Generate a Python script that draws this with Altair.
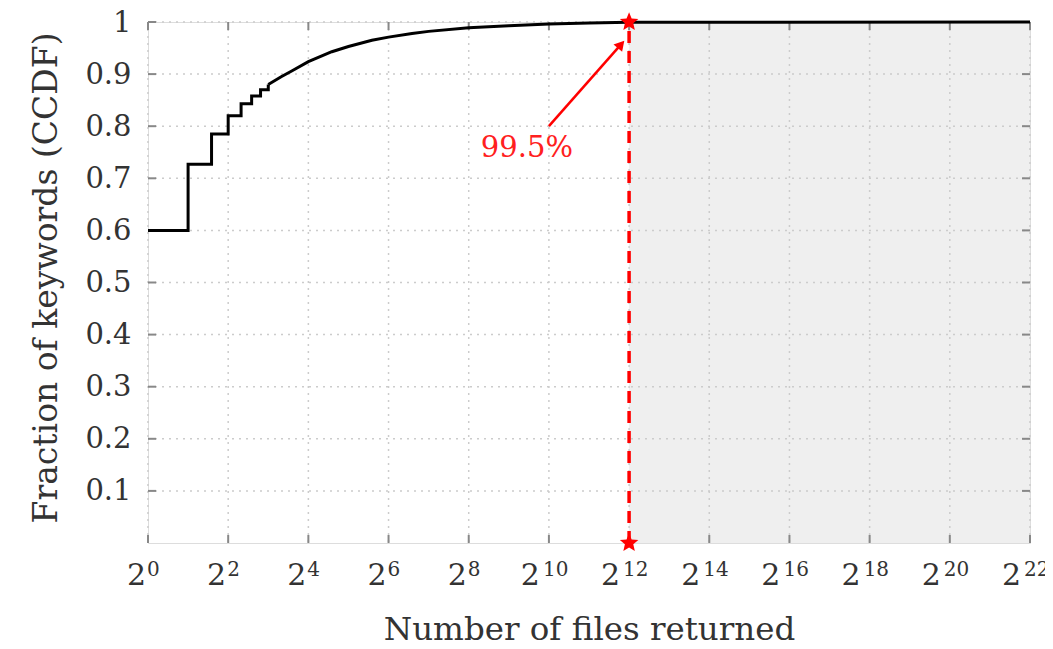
import altair as alt
import pandas as pd

# ---------------- data ----------------
step_x = [1, 2, 3, 4, 5, 6, 7, 8]
step_y = [0.600, 0.727, 0.785, 0.820, 0.843, 0.858, 0.870, 0.880]

smooth_x = [8, 10, 12, 16, 24, 32, 48, 64, 96, 128, 256, 512, 1024, 2048, 4096, 4194304]
smooth_y = [0.880, 0.895, 0.906, 0.924, 0.943, 0.953, 0.965, 0.971, 0.978, 0.982,
            0.989, 0.993, 0.996, 0.998, 0.9995, 1.0]

x_tick_exp = [0, 2, 4, 6, 8, 10, 12, 14, 16, 18, 20, 22]
y_ticks = [0.1, 0.2, 0.3, 0.4, 0.5, 0.6, 0.7, 0.8, 0.9, 1.0]

threshold = 4096          # 2^12
x_max = 4194304           # 2^22
label_text = ["99.5%"]
label_x = [700]
label_y = [0.758]
arrow_x = [1024]
arrow_y = [0.80]
arrow_x2 = [3565]
arrow_y2 = [0.957]

W, H = 882, 521
SERIF = "DejaVu Serif"
STAR = ("M0,-1L0.26,-0.36L0.95,-0.31L0.43,0.14L0.59,0.81L0,0.45"
        "L-0.59,0.81L-0.43,0.14L-0.95,-0.31L-0.26,-0.36Z")

step_df = pd.DataFrame({"x": step_x, "y": step_y})
smooth_df = pd.DataFrame({"x": smooth_x, "y": smooth_y})
xt_df = pd.DataFrame({"x": [2 ** e for e in x_tick_exp],
                      "exp": x_tick_exp,
                      "sup": [str(e) for e in x_tick_exp],
                      "base": ["2"] * len(x_tick_exp)})
yt_df = pd.DataFrame({"y": y_ticks})

xs = alt.Scale(type="log", base=2, domain=[1, x_max], nice=False)
ys = alt.Scale(domain=[0, 1], nice=False)

X = alt.X("x:Q", scale=xs,
          axis=alt.Axis(title="Number of files returned", labels=False, ticks=False,
                        grid=False, domain=False, titleFont=SERIF, titleFontSize=32.5,
                        titleFontWeight="normal", titleColor="#333",
                        titleY=96, titleBaseline="alphabetic"))
Y = alt.Y("y:Q", scale=ys,
          axis=alt.Axis(title="Fraction of keywords (CCDF)", values=y_ticks,
                        format="~g", ticks=False, grid=False, domain=False,
                        labelFont=SERIF, labelFontSize=29, labelColor="#333",
                        labelPadding=17, titleFont=SERIF, titleFontSize=33,
                        titleFontWeight="normal", titleColor="#333",
                        titleX=-92, titleY=H / 2 - 5, titleAngle=-90,
                        titleBaseline="alphabetic"))

# shaded region
shade = alt.Chart(pd.DataFrame({"x": [threshold], "x2": [x_max], "y": [0], "y2": [1]})).mark_rect(
    color="#efefef").encode(x=X, x2="x2:Q", y=Y, y2="y2:Q")

# grids
xgrid = alt.Chart(xt_df).mark_rule(color="#cccccc", strokeDash=[2, 5], strokeWidth=1.5).encode(
    x=alt.X("x:Q", scale=xs), y=alt.value(0), y2=alt.value(H))
ygrid = alt.Chart(yt_df).mark_rule(color="#cccccc", strokeDash=[2, 5], strokeWidth=1.5).encode(
    y=alt.Y("y:Q", scale=ys), x=alt.value(0), x2=alt.value(W))

# inward ticks
tick_c = "#888888"
xt_bot = alt.Chart(xt_df).mark_rule(color=tick_c, strokeWidth=2).encode(
    x=alt.X("x:Q", scale=xs), y=alt.value(H), y2=alt.value(H - 8))
xt_top = alt.Chart(xt_df).mark_rule(color=tick_c, strokeWidth=2).encode(
    x=alt.X("x:Q", scale=xs), y=alt.value(0), y2=alt.value(8))
yt_l = alt.Chart(yt_df).mark_rule(color=tick_c, strokeWidth=2).encode(
    y=alt.Y("y:Q", scale=ys), x=alt.value(0), x2=alt.value(8))
yt_r = alt.Chart(yt_df).mark_rule(color=tick_c, strokeWidth=2).encode(
    y=alt.Y("y:Q", scale=ys), x=alt.value(W), x2=alt.value(W - 8))

# curves
step_line = alt.Chart(step_df).mark_line(color="black", strokeWidth=3,
                                         interpolate="step-after").encode(x=X, y=Y)
smooth_line = alt.Chart(smooth_df).mark_line(color="black", strokeWidth=3).encode(
    x=alt.X("x:Q", scale=xs), y=alt.Y("y:Q", scale=ys))

# threshold line and markers
th_df = pd.DataFrame({"x": [threshold, threshold], "y": [0, 1]})
th_line = alt.Chart(th_df).mark_line(color="#ff0000", strokeWidth=3.5, strokeDash=[12, 8]).encode(
    x=alt.X("x:Q", scale=xs), y=alt.Y("y:Q", scale=ys))
th_pts = alt.Chart(th_df).mark_point(shape=STAR, filled=True, color="#ff0000", size=380,
                                     opacity=1).encode(
    x=alt.X("x:Q", scale=xs), y=alt.Y("y:Q", scale=ys))

# annotation
ann_df = pd.DataFrame({"x": arrow_x, "y": arrow_y, "x2": arrow_x2, "y2": arrow_y2})
arrow = alt.Chart(ann_df).mark_rule(color="#ff0000", strokeWidth=2.5).encode(
    x=alt.X("x:Q", scale=xs), y=alt.Y("y:Q", scale=ys), x2="x2:Q", y2="y2:Q")
head = alt.Chart(ann_df).mark_point(shape="triangle-up", filled=True, color="#ff0000",
                                    size=130, angle=41, opacity=1).encode(
    x=alt.X("x2:Q", scale=xs), y=alt.Y("y2:Q", scale=ys))
txt = alt.Chart(pd.DataFrame({"x": label_x, "y": label_y, "t": label_text})).mark_text(
    font=SERIF, fontSize=29, color="#ff2020", align="center", baseline="middle").encode(
    x=alt.X("x:Q", scale=xs), y=alt.Y("y:Q", scale=ys), text="t:N")

# x tick labels as 2^k
base1 = alt.Chart(xt_df).transform_filter("datum.exp < 10").mark_text(
    font=SERIF, fontSize=30, color="#333", align="right", baseline="alphabetic", dx=-2).encode(
    x=alt.X("x:Q", scale=xs), y=alt.value(H + 42), text="base:N")
sup1 = alt.Chart(xt_df).transform_filter("datum.exp < 10").mark_text(
    font=SERIF, fontSize=20, color="#333", align="left", baseline="alphabetic", dx=-1).encode(
    x=alt.X("x:Q", scale=xs), y=alt.value(H + 33), text="sup:N")
base2 = alt.Chart(xt_df).transform_filter("datum.exp >= 10").mark_text(
    font=SERIF, fontSize=30, color="#333", align="right", baseline="alphabetic", dx=-9).encode(
    x=alt.X("x:Q", scale=xs), y=alt.value(H + 42), text="base:N")
sup2 = alt.Chart(xt_df).transform_filter("datum.exp >= 10").mark_text(
    font=SERIF, fontSize=20, color="#333", align="left", baseline="alphabetic", dx=-6).encode(
    x=alt.X("x:Q", scale=xs), y=alt.value(H + 33), text="sup:N")

chart = alt.layer(
    shade, xgrid, ygrid, xt_bot, xt_top, yt_l, yt_r,
    step_line, smooth_line, th_line, th_pts, arrow, head, txt,
    base1, sup1, base2, sup2,
).properties(
    width=W, height=H,
    autosize=alt.AutoSizeParams(type="none"),
    padding={"left": 140, "top": 14, "right": 15, "bottom": 98},
).configure_view(
    stroke="#222", strokeWidth=2.5
).configure(background="white")

chart.save("out.html", embed_options={"renderer": "svg", "actions": False})
